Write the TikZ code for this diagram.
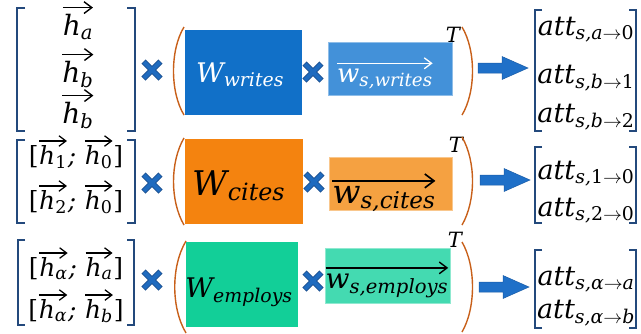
\RequirePackage{fix-cm}
\documentclass[tikz,border=0pt]{standalone}
\usepackage{fontspec}
\setmainfont{DejaVu Serif}
\usetikzlibrary{arrows.meta}
\definecolor{brkc}{HTML}{23497C}
\definecolor{parc}{HTML}{C8601A}
\definecolor{mulc}{HTML}{1F6BBF}
\definecolor{muld}{HTML}{1A4E8E}
\definecolor{arrc}{HTML}{1F70C8}
\definecolor{arrd}{HTML}{1A5CA6}
\definecolor{wrA}{HTML}{1170C8}
\definecolor{wrB}{HTML}{4391D9}
\definecolor{ciA}{HTML}{F4830F}
\definecolor{ciB}{HTML}{F5A141}
\definecolor{emA}{HTML}{12CF98}
\definecolor{emB}{HTML}{44DAB1}
\newcommand{\fsz}[1]{\fontsize{#1}{#1}\selectfont\itshape}
\newcommand{\sbs}[1]{\textsubscript{#1}}
% vector arrow over a piece of text; optional gap above the text
\newcommand{\vv}[2][0.16em]{\tikz[baseline=(vvb.base)]{%
  \node[inner sep=0pt, outer sep=0pt] (vvb) {#2};
  \draw[line width=0.05em, -{Straight Barb[length=0.28em, width=0.42em]}]
    ([yshift=#1]vvb.north west) -- ([yshift=#1]vvb.north east);}}
\tikzset{
  brk/.style={draw=brkc, line width=2.3pt, line join=miter},
  par/.style={draw=parc, line width=1.4pt},
  lbl/.style={anchor=base, inner sep=0pt},
  mulx/.pic={
    \draw[muld, line width=6pt] (-8.5,-8.5)--(8.5,8.5) (-8.5,8.5)--(8.5,-8.5);
    \draw[mulc, line width=4pt] (-8,-8)--(8,8) (-8,8)--(8,-8);
  },
  blockarr/.pic={
    \filldraw[fill=arrc, draw=arrd, line width=0.5pt]
      (-25,-5) -- (-1,-5) -- (-1,-11.5) -- (25,0) -- (-1,11.5) -- (-1,5) -- (-25,5) -- cycle;
  },
}
\begin{document}
\begin{tikzpicture}[x=1pt, y=-1pt]
\useasboundingbox (0,0) rectangle (641,333);

% ---------- row 1: writes ----------
\draw[brk] (25,8) -- (17,8) -- (17,131) -- (25,131);
\draw[brk] (127,8) -- (135,8) -- (135,131) -- (127,131);
\node[lbl, font=\fsz{28}] (h1a) at (78,35)  {\vv[0.22em]{h\sbs{a}}};
\node[lbl, font=\fsz{28}] (h1b) at (78,82)  {\vv[0.22em]{h\sbs{b}}};
\node[lbl, font=\fsz{28}] (h1c) at (78,123) {\vv[0.22em]{h\sbs{b}}};
\pic at (152,70) {mulx};
\draw[par] (184,27) .. controls (170,50) and (170,92) .. (184,115);
\node[fill=wrA, inner sep=0, minimum width=117pt, minimum height=85pt] (Wwr) at (243.5,72.5) {};
\node[lbl, font=\fsz{27}, text=white] (Wwrt) at (240,82) {W\sbs{writes}};
\pic at (313,72) {mulx};
\node[fill=wrB, draw=wrB!60!white, line width=0.6pt, inner sep=0, minimum width=124pt, minimum height=53pt] (wwr) at (390,68.5) {};
\node[lbl, font=\fsz{26}, text=white] (wwrt) at (385,82) {\vv[0.2em]{w\sbs{s,writes}}};
\node[lbl, font=\fsz{21}] (T1) at (453,42) {T};
\draw[par] (462,27) .. controls (476,50) and (476,92) .. (462,115);
\pic at (503,68) {blockarr};
\draw[brk] (542,10) -- (535,10) -- (535,131) -- (542,131);
\draw[brk] (629,10) -- (636,10) -- (636,131) -- (629,131);
\node[lbl, font=\fsz{27}] (a1a) at (586,35)  {att\sbs{s,a$\to$\textup{0}}};
\node[lbl, font=\fsz{27}] (a1b) at (586,83)  {att\sbs{s,b$\to$\textup{1}}};
\node[lbl, font=\fsz{27}] (a1c) at (586,122) {att\sbs{s,b$\to$\textup{2}}};

% ---------- row 2: cites ----------
\draw[brk] (25,140) -- (17,140) -- (17,223) -- (25,223);
\draw[brk] (127,140) -- (135,140) -- (135,223) -- (127,223);
\node[lbl, font=\fsz{25}] (h2a) at (76,164) {\textup{[}\vv{h\sbs{\textup{1}}}; \vv{h\sbs{\textup{0}}}\textup{]}};
\node[lbl, font=\fsz{25}] (h2b) at (76,209) {\textup{[}\vv{h\sbs{\textup{2}}}; \vv{h\sbs{\textup{0}}}\textup{]}};
\pic at (152,183) {mulx};
\draw[par] (184,138) .. controls (170,162) and (170,201) .. (184,225);
\node[fill=ciA, inner sep=0, minimum width=118pt, minimum height=85pt] (Wci) at (244,181.5) {};
\node[lbl, font=\fsz{34}] (Wcit) at (239,195) {W\sbs{cites}};
\pic at (314,182) {mulx};
\node[fill=ciB, draw=ciB!60!white, line width=0.6pt, inner sep=0, minimum width=123pt, minimum height=53pt] (wci) at (391,183.5) {};
\node[lbl, font=\fsz{33}] (wcit) at (384,203) {\vv[0.15em]{w\sbs{s,cites}}};
\node[lbl, font=\fsz{21}] (T2) at (456,152) {T};
\draw[par] (462,137) .. controls (476,161) and (476,201) .. (462,225);
\pic at (505,180) {blockarr};
\draw[brk] (542,147) -- (535,147) -- (535,223) -- (542,223);
\draw[brk] (629,147) -- (636,147) -- (636,223) -- (629,223);
\node[lbl, font=\fsz{27}] (a2a) at (586,179) {att\sbs{s,\textup{1}$\to$\textup{0}}};
\node[lbl, font=\fsz{27}] (a2b) at (586,216) {att\sbs{s,\textup{2}$\to$\textup{0}}};

% ---------- row 3: employs ----------
\draw[brk] (25,240) -- (18,240) -- (18,325) -- (25,325);
\draw[brk] (127,240) -- (134,240) -- (134,325) -- (127,325);
\node[lbl, font=\fsz{25}] (h3a) at (76,276) {\textup{[}\vv{h\sbs{α}}; \vv{h\sbs{a}}\textup{]}};
\node[lbl, font=\fsz{25}] (h3b) at (76,318) {\textup{[}\vv{h\sbs{α}}; \vv{h\sbs{b}}\textup{]}};
\pic at (152,280) {mulx};
\draw[par] (186,241) .. controls (171,266) and (171,308) .. (186,333);
\node[fill=emA, inner sep=0, minimum width=112pt, minimum height=85pt] (Wem) at (242,284.5) {};
\node[lbl, font=\fsz{27}] (Wemt) at (239,297) {W\sbs{employs}};
\pic at (313,281) {mulx};
\node[fill=emB, draw=emB!60!white, line width=0.6pt, inner sep=0, minimum width=125pt, minimum height=55pt] (wem) at (387.5,275.5) {};
\node[lbl, font=\fsz{28}] (wemt) at (387,288) {\vv[0.2em]{w\sbs{s,employs}}};
\node[lbl, font=\fsz{21}] (T3) at (455,247) {T};
\draw[par] (462,242) .. controls (476,266) and (476,308) .. (462,332);
\pic at (504,287) {blockarr};
\draw[brk] (542,250) -- (535,250) -- (535,328) -- (542,328);
\draw[brk] (629,250) -- (636,250) -- (636,328) -- (629,328);
\node[lbl, font=\fsz{27}] (a3a) at (586,285) {att\sbs{s,α$\to$a}};
\node[lbl, font=\fsz{27}] (a3b) at (586,318) {att\sbs{s,α$\to$b}};
\end{tikzpicture}
\end{document}
